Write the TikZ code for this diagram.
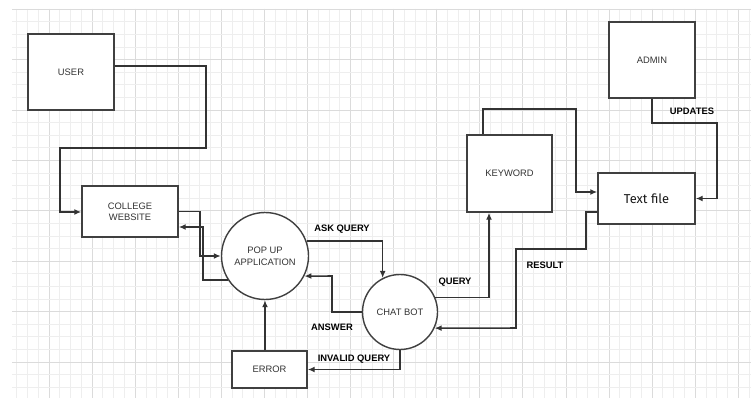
\documentclass[tikz,border=0pt]{standalone}
\usepackage{fontspec}
\setmainfont{Liberation Sans}
\newfontfamily\txtfont{Fira Sans}
\usetikzlibrary{arrows.meta}

\begin{document}
\begin{tikzpicture}[x=0.03cm, y=-0.03cm,
	box/.style={draw=black!75, line width=1.2pt, fill=white, rectangle, align=center, inner sep=0pt, text=black!80, font=\fontsize{8}{9.5}\selectfont},
	bubble/.style={draw=black!75, line width=1.2pt, fill=white, circle, align=center, inner sep=0pt, text=black!80, font=\fontsize{8}{10.5}\selectfont},
	flow/.style={draw=black!80, line width=1.3pt, -{Latex[length=6pt,width=5pt]}},
	lbl/.style={text=black, font=\bfseries\fontsize{8}{9}\selectfont}]
			
			% Background and grid
			\useasboundingbox (0,0) rectangle (751,398);
			\fill[white] (0,0) rectangle (751,398);
			\begin{scope}
				\clip (12,9) rectangle (751,398);
				\foreach \k in {0,...,68} {
					\draw[gray!13, line width=0.4pt] ({16.5+\k*10.77},9) -- ({16.5+\k*10.77},398);
				}
				\foreach \k in {3,7,...,67} {
					\draw[gray!28, line width=0.4pt] ({16.5+\k*10.77},9) -- ({16.5+\k*10.77},398);
				}
				\foreach \k in {0,...,31} {
					\draw[gray!13, line width=0.4pt] (12,{9+\k*12.6}) -- (751,{9+\k*12.6});
				}
				\foreach \k in {0,4,...,28} {
					\draw[gray!28, line width=0.4pt] (12,{9+\k*12.6}) -- (751,{9+\k*12.6});
				}
			\end{scope}
			
			% Boxes
			\node[box, minimum width=2.58cm, minimum height=2.28cm] (user) at (71,72) {USER};
			\node[box, minimum width=2.88cm, minimum height=1.53cm] (college) at (130,211.5) {COLLEGE\\WEBSITE};
			\node[box, minimum width=2.25cm, minimum height=1.11cm] (error) at (269.5,369.5) {ERROR};
			\node[box, minimum width=2.55cm, minimum height=2.31cm] (keyword) at (509.5,173.5) {KEYWORD};
			\node[box, minimum width=2.91cm, minimum height=1.53cm, font=\txtfont\fontsize{11}{13}\selectfont, text=black!90] (textfile) at (646.5,198.5) {Text file};
			\node[box, minimum width=2.58cm, minimum height=2.28cm] (admin) at (652,60) {ADMIN};
			
			% Processes
			\node[bubble, minimum size=2.61cm] (popup) at (265,256) {POP UP\\APPLICATION};
			\node[bubble, minimum size=2.25cm] (chatbot) at (400,312) {CHAT BOT};
			
			% Flows
			\draw[flow] (user.east |- 0,66) -| (206,148) -| (60,212) -- (college.west |- 0,212);
			\draw[flow] (college.east) -| (200,256) -- (popup.west);
			\draw[flow] (popup.213) -| (203,227) -- (college.east |- 0,227);
			\draw[flow] (popup.20) -| (chatbot.117);
			\draw[flow] (chatbot.west) -| (332,276) -- (popup.333);
			\draw[flow] (popup.south |- error.north) -- (popup.south);
			\draw[flow] (chatbot.south) |- (error.east);
			\draw[flow] (chatbot.22) -| ([xshift=-0.615cm]keyword.south);
			\draw[flow] ([xshift=-0.795cm]keyword.north) |- (576,109) |- ([yshift=0.195cm]textfile.west);
			\draw[flow] (admin.south) |- (717,123) |- (textfile.east);
			\draw[flow] ([yshift=-0.405cm]textfile.west) -| (586,249) -| (516,328) -- (chatbot.335);
			
			% Labels
			\node[lbl] (askq) at (342,229) {ASK QUERY};
			\node[lbl] (answer) at (332,327) {ANSWER};
			\node[lbl] (invalid) at (354,359) {INVALID QUERY};
			\node[lbl] (query) at (455,282) {QUERY};
			\node[lbl] (result) at (545,265) {RESULT};
			\node[lbl] (updates) at (692,111) {UPDATES};
			
		\end{tikzpicture}
\end{document}
